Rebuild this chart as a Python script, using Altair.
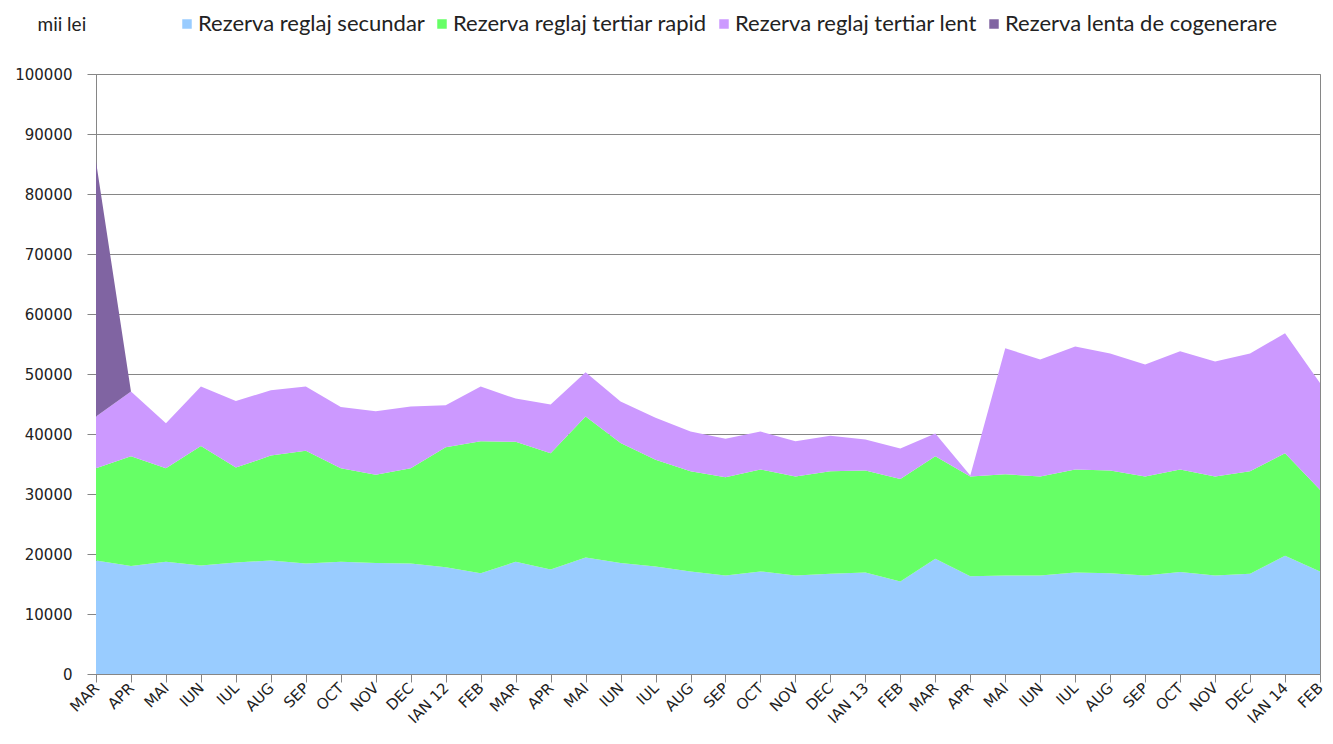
import altair as alt
import pandas as pd

labels = ["MAR", "APR", "MAI", "IUN", "IUL", "AUG", "SEP", "OCT", "NOV", "DEC", "IAN 12", "FEB",
          "MAR", "APR", "MAI", "IUN", "IUL", "AUG", "SEP", "OCT", "NOV", "DEC", "IAN 13", "FEB",
          "MAR", "APR", "MAI", "IUN", "IUL", "AUG", "SEP", "OCT", "NOV", "DEC", "IAN 14", "FEB"]

secundar = [18900, 18000, 18700, 18100, 18600, 18900, 18400, 18700, 18500, 18400, 17800, 16800,
            18700, 17400, 19400, 18500, 17900, 17100, 16400, 17100, 16400, 16700, 16900, 15400,
            19200, 16300, 16400, 16400, 16900, 16800, 16400, 17000, 16400, 16700, 19700, 17100]
rapid = [15400, 18300, 15600, 19900, 15800, 17500, 18800, 15600, 14700, 15900, 20000, 22000,
         20000, 19400, 23500, 20000, 17800, 16700, 16400, 17000, 16500, 17100, 17000, 17100,
         17100, 16600, 16900, 16500, 17200, 17100, 16500, 17100, 16500, 17100, 17100, 13600]
lent = [8600, 10800, 7500, 9900, 11100, 10900, 10700, 10200, 10600, 10300, 7000, 9100,
        7200, 8100, 7400, 6900, 7000, 6600, 6400, 6300, 5900, 5900, 5200, 5100,
        3800, 200, 21000, 19500, 20500, 19500, 18700, 19700, 19200, 19600, 20000, 17800]
cogenerare = [42500, 0, 0, 0, 0, 0, 0, 0, 0, 0, 0, 0,
              0, 0, 0, 0, 0, 0, 0, 0, 0, 0, 0, 0,
              0, 0, 0, 0, 0, 0, 0, 0, 0, 0, 0, 0]

series_names = ["Rezerva reglaj secundar", "Rezerva reglaj tertiar rapid",
                "Rezerva reglaj tertiar lent", "Rezerva lenta de cogenerare"]
series_colors = ["#99CCFF", "#66FF66", "#CC99FF", "#8064A2"]

rows = []
for k, vals in enumerate([secundar, rapid, lent, cogenerare]):
    for i, v in enumerate(vals):
        rows.append({"idx": i, "serie": series_names[k], "ord": k, "val": v})
df = pd.DataFrame(rows)

label_js = "[" + ",".join("'" + l + "'" for l in labels) + "]"

chart = alt.Chart(df).mark_area(opacity=1).encode(
    x=alt.X("idx:Q",
            scale=alt.Scale(domain=[0, len(labels) - 1], nice=False, zero=False),
            axis=alt.Axis(values=list(range(len(labels))), labelExpr=label_js + "[datum.value]",
                          title=None, grid=False, labelAngle=-45, labelAlign="right",
                          labelBaseline="middle", labelFontSize=15,
                          labelFont="DejaVu Sans", labelColor="#222222", domainColor="#868686",
                          tickColor="#868686", tickSize=8, labelPadding=3,
                          labelOverlap=False, labelBound=False, labelFlush=False)),
    y=alt.Y("val:Q", stack="zero",
            scale=alt.Scale(domain=[0, 100000], nice=False),
            axis=alt.Axis(values=list(range(0, 100001, 10000)), format="d",
                          title="mii lei", titleAngle=0, titleAlign="left",
                          titleBaseline="middle", titleX=-59, titleY=-50,
                          titleFont="Lato", titleFontSize=19,
                          titleFontWeight="normal", titleColor="#222222",
                          labelFont="DejaVu Sans", labelFontSize=15, labelColor="#222222",
                          gridColor="#868686", domainColor="#868686", tickColor="#868686",
                          tickSize=9, labelPadding=15)),
    color=alt.Color("serie:N",
                    scale=alt.Scale(domain=series_names, range=series_colors),
                    legend=alt.Legend(title=None, orient="none", legendX=80, legendY=-61,
                                      direction="horizontal", symbolType="square",
                                      symbolSize=90, symbolStrokeWidth=0,
                                      labelFont="Lato", labelFontSize=22, labelLimit=0,
                                      labelColor="#222222", columnPadding=6, symbolOffset=0,
                                      labelOffset=0)),
    order=alt.Order("ord:Q"),
).properties(
    width=1224, height=600,
    autosize=alt.AutoSizeParams(type="none"),
    padding={"left": 88, "top": 66, "right": 5, "bottom": 60},
).configure_view(stroke="#868686")

chart.save("out.html", embed_options={"renderer": "svg", "actions": False})
